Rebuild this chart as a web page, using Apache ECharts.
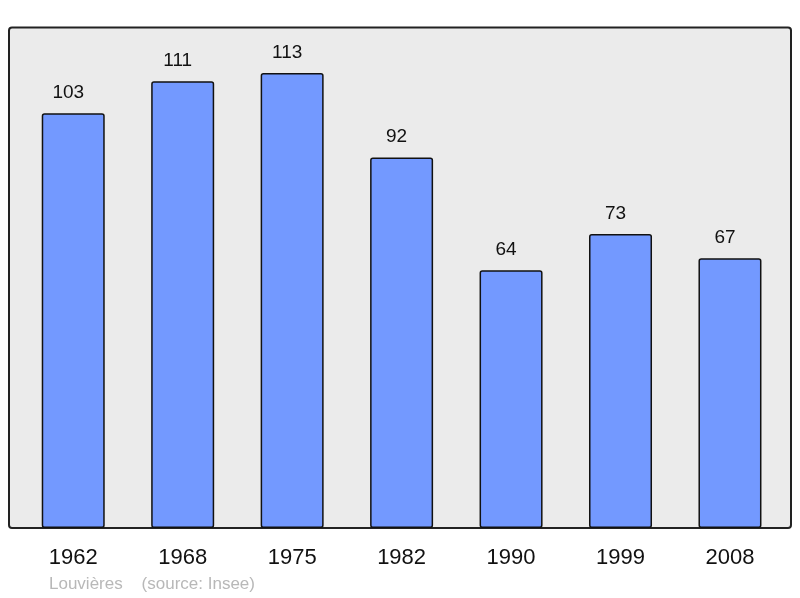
<!DOCTYPE html>
<html><head><meta charset="utf-8">
<script src="https://cdn.jsdelivr.net/npm/echarts@6/dist/echarts.min.js"></script>
<style>html,body{margin:0;padding:0;background:#fff;}#c{width:800px;height:598px;}</style>
</head><body><div id="c"></div>
<script>
const categories = ['1962','1968','1975','1982','1990','1999','2008'];
const values = [103, 111, 113, 92, 64, 73, 67];
const footer = 'Louvières    (source: Insee)';

const chart = echarts.init(document.getElementById('c'), null, {renderer:'canvas'});
chart.setOption({
  animation: false,
  backgroundColor: '#ffffff',
  graphic: [{
    type: 'rect', z: -10,
    shape: {x: 9, y: 27.5, width: 782, height: 500.5, r: 3},
    style: {fill: '#ebebeb', stroke: '#222', lineWidth: 2}
  }, {
    type: 'text', left: 49, top: 576,
    style: {text: footer, fill: '#b8b8b8', font: '17px "Liberation Sans", Arial, sans-serif'}
  }],
  grid: {left: 18.5, right: 15.3, top: 44.9, bottom: 70},
  xAxis: {
    type: 'category', data: categories,
    axisLine: {show: false}, axisTick: {show: false},
    axisLabel: {color: '#111', fontSize: 22, fontFamily: 'Liberation Sans, Arial, sans-serif', margin: 19}
  },
  yAxis: {type: 'value', min: 0, max: 120, show: false, splitLine: {show: false}},
  series: [{
    type: 'bar', data: values, barWidth: 63,
    itemStyle: {color: '#7399ff', borderColor: '#111', borderWidth: 1.5, borderRadius: 2},
    label: {show: true, position: 'top', distance: 11, offset: [-5, 0], color: '#111',
      fontSize: 19, fontFamily: 'Liberation Sans, Arial, sans-serif'}
  }]
});
</script></body></html>
